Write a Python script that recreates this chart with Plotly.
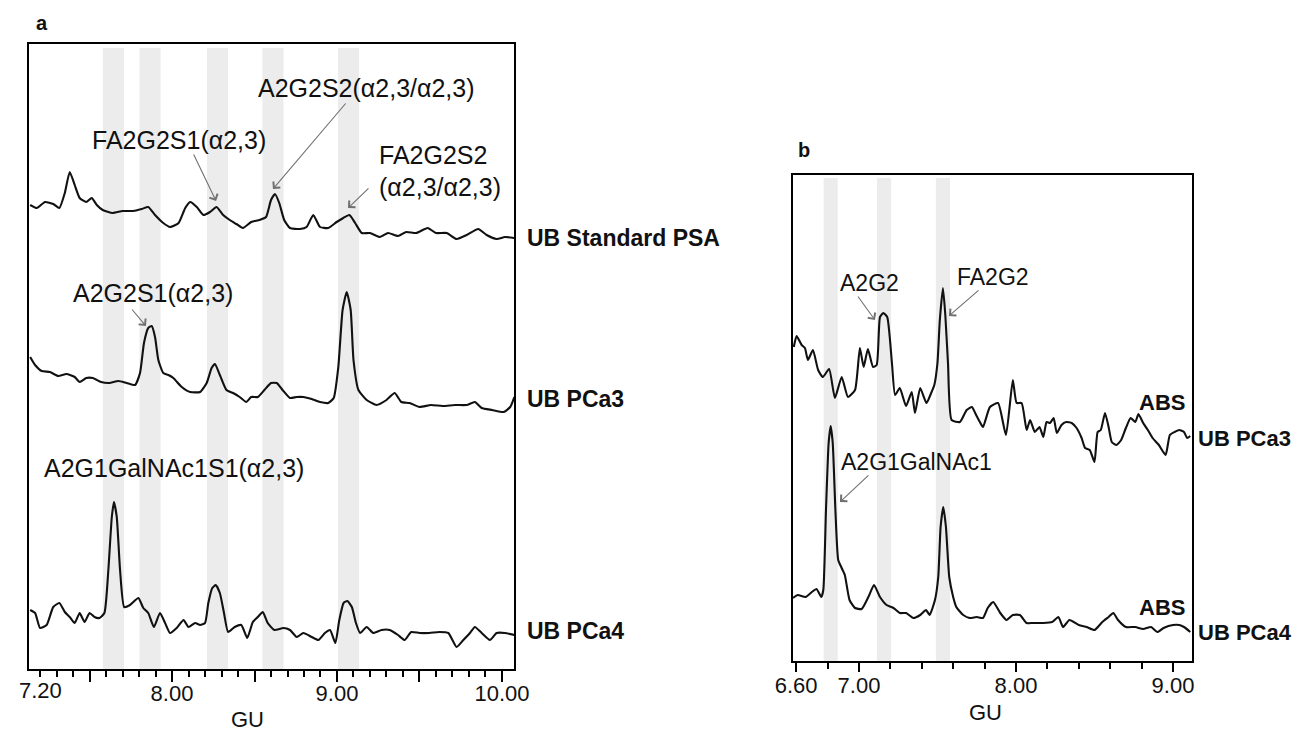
import plotly.graph_objects as go

# ---------------- Panel a data (GU vs relative signal, stacked) ----------------
a_std_gu = [7.14, 7.18, 7.23, 7.28, 7.317, 7.35, 7.38, 7.41, 7.44, 7.48,
            7.513, 7.544, 7.58, 7.64, 7.70, 7.765, 7.816, 7.856, 7.897, 7.947,
            7.988, 8.04, 8.08, 8.11, 8.15, 8.19, 8.23, 8.27, 8.31, 8.35,
            8.39, 8.43, 8.48, 8.53, 8.57, 8.60, 8.624, 8.65, 8.68, 8.715,
            8.776, 8.816, 8.856, 8.897, 8.947, 8.998, 9.038, 9.075, 9.11, 9.15,
            9.20, 9.26, 9.31, 9.37, 9.42, 9.48, 9.55, 9.60, 9.665, 9.725,
            9.786, 9.856, 9.907, 9.968, 10.018, 10.075]
a_std_sig = [464, 461, 467, 465, 461, 476, 497, 484, 471, 467,
             471, 464, 459, 456, 458, 458, 460, 462, 454, 446,
             442, 446, 461, 467, 462, 454, 457, 462, 454, 449,
             445, 441, 447, 449, 452, 469, 475, 466, 449, 441,
             440, 442, 454, 442, 441, 447, 451, 454, 446, 436,
             436, 432, 436, 433, 437, 436, 441, 436, 436, 430,
             434, 440, 434, 430, 432, 431]

a_pca3_gu = [7.14, 7.17, 7.21, 7.26, 7.31, 7.36, 7.41, 7.44, 7.48, 7.52,
             7.57, 7.62, 7.675, 7.725, 7.776, 7.806, 7.83, 7.856, 7.877, 7.897,
             7.917, 7.947, 7.978, 8.008, 8.059, 8.11, 8.17, 8.21, 8.24, 8.26,
             8.29, 8.33, 8.37, 8.41, 8.45, 8.48, 8.52, 8.56, 8.60, 8.635,
             8.67, 8.715, 8.756, 8.796, 8.847, 8.897, 8.947, 8.98, 9.008, 9.034,
             9.059, 9.083, 9.10, 9.13, 9.18, 9.24, 9.30, 9.35, 9.39, 9.44,
             9.50, 9.57, 9.64, 9.715, 9.786, 9.836, 9.877, 9.94, 10.01, 10.05,
             10.075]
a_pca3_sig = [312, 304, 298, 297, 293, 295, 292, 287, 291, 291,
              287, 286, 288, 286, 284, 296, 326, 341, 343, 332,
              309, 296, 294, 291, 282, 277, 277, 286, 301, 305,
              294, 279, 276, 272, 267, 272, 272, 279, 286, 286,
              279, 271, 272, 272, 270, 267, 266, 271, 302, 359,
              377, 359, 309, 279, 269, 264, 269, 276, 267, 266,
              262, 264, 263, 264, 264, 267, 261, 259, 257, 262,
              272]

a_pca4_gu = [7.14, 7.17, 7.20, 7.24, 7.28, 7.317, 7.35, 7.38, 7.41, 7.44,
             7.47, 7.50, 7.53, 7.56, 7.59, 7.614, 7.635, 7.648, 7.665, 7.685,
             7.71, 7.745, 7.796, 7.826, 7.856, 7.89, 7.927, 7.958, 7.988, 8.028,
             8.07, 8.10, 8.14, 8.17, 8.20, 8.22, 8.244, 8.265, 8.29, 8.315,
             8.34, 8.38, 8.42, 8.456, 8.49, 8.52, 8.55, 8.58, 8.62, 8.675,
             8.715, 8.756, 8.796, 8.847, 8.887, 8.927, 8.958, 8.99, 9.014, 9.04,
             9.063, 9.09, 9.115, 9.14, 9.18, 9.22, 9.27, 9.32, 9.37, 9.41,
             9.45, 9.50, 9.56, 9.62, 9.675, 9.725, 9.766, 9.806, 9.836, 9.877,
             9.927, 9.968, 10.018, 10.075]
a_pca4_sig = [59, 56, 41, 44, 62, 66, 57, 52, 46, 56,
              47, 56, 52, 51, 56, 99, 152, 167, 152, 99,
              62, 64, 71, 61, 56, 42, 56, 46, 36, 41,
              49, 42, 46, 44, 46, 66, 81, 84, 76, 56,
              37, 42, 44, 31, 47, 52, 57, 46, 39, 41,
              39, 32, 36, 32, 29, 36, 39, 26, 49, 66,
              68, 62, 46, 36, 42, 36, 39, 39, 34, 29,
              37, 36, 36, 37, 36, 22, 29, 36, 42, 36,
              29, 36, 36, 34]

a_bands = [7.645, 7.867, 8.276, 8.612, 9.07]

# ---------------- Panel b data ----------------
b_pca3_gu = [6.585, 6.603, 6.635, 6.656, 6.675, 6.707, 6.74, 6.77, 6.81, 6.847,
             6.89, 6.93, 6.975, 7.006, 7.03, 7.057, 7.09, 7.113, 7.134, 7.155,
             7.18, 7.21, 7.23, 7.26, 7.30, 7.336, 7.357, 7.39, 7.43, 7.46,
             7.48, 7.50, 7.515, 7.535, 7.55, 7.567, 7.59, 7.643, 7.686, 7.72,
             7.74, 7.77, 7.79, 7.834, 7.886, 7.936, 7.98, 8.004, 8.036, 8.068,
             8.09, 8.12, 8.15, 8.174, 8.195, 8.217, 8.24, 8.26, 8.29, 8.32,
             8.355, 8.386, 8.418, 8.44, 8.47, 8.50, 8.52, 8.54, 8.567, 8.59,
             8.61, 8.64, 8.67, 8.70, 8.73, 8.76, 8.78, 8.81, 8.84, 8.87,
             8.91, 8.953, 8.98, 9.01, 9.04, 9.07, 9.09, 9.11]
b_pca3_sig = [314, 325, 316, 313, 301, 311, 291, 284, 292, 263,
              284, 264, 271, 313, 294, 312, 294, 296, 344, 348,
              344, 298, 266, 273, 255, 269, 248, 273, 258, 268,
              276, 298, 341, 373, 346, 298, 241, 239, 251, 254,
              248, 239, 234, 254, 258, 226, 281, 258, 258, 231,
              241, 229, 234, 224, 239, 238, 243, 228, 236, 239,
              238, 233, 223, 213, 211, 199, 229, 231, 248, 234,
              219, 216, 221, 233, 243, 239, 247, 238, 231, 223,
              216, 206, 226, 229, 231, 229, 223, 225]

b_pca4_gu = [6.58, 6.61, 6.66, 6.70, 6.73, 6.76, 6.773, 6.79, 6.807, 6.82,
             6.833, 6.85, 6.868, 6.89, 6.91, 6.94, 6.975, 7.017, 7.06, 7.096,
             7.134, 7.176, 7.22, 7.26, 7.30, 7.346, 7.39, 7.427, 7.45, 7.484,
             7.505, 7.52, 7.537, 7.554, 7.575, 7.60, 7.62, 7.664, 7.707, 7.75,
             7.79, 7.82, 7.855, 7.90, 7.94, 7.98, 8.025, 8.068, 8.11, 8.174,
             8.23, 8.27, 8.30, 8.34, 8.40, 8.45, 8.50, 8.55, 8.59, 8.62,
             8.65, 8.70, 8.76, 8.81, 8.86, 8.90, 8.94, 9.00, 9.04, 9.07,
             9.11]
b_pca4_sig = [63, 66, 64, 69, 72, 64, 71, 151, 218, 235,
              218, 151, 101, 93, 86, 61, 53, 52, 64, 76,
              64, 56, 53, 48, 48, 43, 46, 51, 46, 61,
              84, 134, 154, 134, 84, 64, 54, 46, 43, 44,
              43, 53, 59, 48, 41, 46, 46, 38, 38, 38,
              39, 44, 34, 41, 36, 34, 31, 39, 44, 48,
              41, 34, 34, 32, 34, 29, 33, 36, 36, 34,
              29]

b_bands = [6.82, 7.16, 7.535]

a_tickvals = [7.5, 8.0, 8.5, 9.0, 9.5, 10.0]
a_ticktext = ["", "8.00", "", "9.00", "", "10.00"]
b_tickvals = [6.6, 7.0, 8.0, 9.0]
b_ticktext = ["6.60", "7.00", "8.00", "9.00"]

# ---------------- Figure ----------------
W, H = 1298, 731
FONT = "Liberation Sans, Arial, Helvetica, sans-serif"
INK = "#111111"

def px(x):
    return x / W

def py(y):
    return 1 - y / H

fig = go.Figure()
line_style = dict(color="#111111", width=2.1, shape="spline", smoothing=0.5)
for gx, sy in [(a_std_gu, a_std_sig), (a_pca3_gu, a_pca3_sig), (a_pca4_gu, a_pca4_sig)]:
    fig.add_trace(go.Scatter(x=gx, y=sy, mode="lines", line=line_style,
                             xaxis="x", yaxis="y", showlegend=False, hoverinfo="skip"))
for gx, sy in [(b_pca3_gu, b_pca3_sig), (b_pca4_gu, b_pca4_sig)]:
    fig.add_trace(go.Scatter(x=gx, y=sy, mode="lines", line=line_style,
                             xaxis="x2", yaxis="y2", showlegend=False, hoverinfo="skip"))

shapes = []
for c in a_bands:
    shapes.append(dict(type="rect", xref="x", yref="y", x0=c - 0.064, x1=c + 0.064,
                       y0=0, y1=621, fillcolor="#ececec", line_width=0, layer="below"))
for c in b_bands:
    shapes.append(dict(type="rect", xref="x2", yref="y2", x0=c - 0.045, x1=c + 0.045,
                       y0=0, y1=483, fillcolor="#ececec", line_width=0, layer="below"))

ann = []
def text(x, y, s, xref="x", yref="y", size=25, bold=False, xanchor="center"):
    ann.append(dict(x=x, y=y, xref=xref, yref=yref, text=("<b>%s</b>" % s) if bold else s,
                    showarrow=False, xanchor=xanchor, yanchor="middle",
                    font=dict(family=FONT, size=size, color=INK)))

def arrow(x, y, ax, ay, xref="x", yref="y"):
    ann.append(dict(x=x, y=y, ax=ax, ay=ay, xref=xref, yref=yref, axref=xref, ayref=yref,
                    text="", showarrow=True, arrowhead=4, arrowsize=1.6, arrowwidth=1.1,
                    arrowcolor="#707070", standoff=0))

# panel a labels
text(7.50, 529, "FA2G2S1(α2,3)", xanchor="left")
arrow(8.267, 468, 8.127, 516)
text(8.51, 581, "A2G2S2(α2,3/α2,3)", xanchor="left")
arrow(8.612, 480, 9.06, 567)
text(9.242, 514, "FA2G2S2", xanchor="left")
text(9.242, 482, "(α2,3/α2,3)", xanchor="left")
arrow(9.067, 461, 9.20, 482)
text(7.388, 376, "A2G2S1(α2,3)", xanchor="left")
arrow(7.842, 343, 7.75, 361)
text(7.212, 201, "A2G1GalNAc1S1(α2,3)", xanchor="left")

# panel b labels
text(7.07, 378, "A2G2", xref="x2", yref="y2", size=23)
arrow(7.102, 341, 6.987, 366, xref="x2", yref="y2")
text(7.853, 384, "FA2G2", xref="x2", yref="y2", size=23)
arrow(7.573, 345, 7.771, 372, xref="x2", yref="y2")
text(7.369, 199, "A2G1GalNAc1", xref="x2", yref="y2", size=23)
arrow(6.879, 159, 7.07, 187, xref="x2", yref="y2")
text(8.93, 259, "ABS", xref="x2", yref="y2", size=22, bold=True)
text(8.93, 54, "ABS", xref="x2", yref="y2", size=22, bold=True)

# sample names (outside the plot boxes)
text(px(525), py(238), "UB Standard PSA", xref="paper", yref="paper", size=23, bold=True, xanchor="left")
text(px(525), py(399), "UB PCa3", xref="paper", yref="paper", size=23, bold=True, xanchor="left")
text(px(525), py(631), "UB PCa4", xref="paper", yref="paper", size=23, bold=True, xanchor="left")
text(px(1196), py(438), "UB PCa3", xref="paper", yref="paper", size=22, bold=True, xanchor="left")
text(px(1196), py(632), "UB PCa4", xref="paper", yref="paper", size=22, bold=True, xanchor="left")

# panel letters, extra tick label, axis titles
text(px(34), py(23), "a", xref="paper", yref="paper", size=20, bold=True, xanchor="left")
text(px(796), py(150), "b", xref="paper", yref="paper", size=20, bold=True, xanchor="left")
text(7.2, py(690), "7.20", xref="x", yref="paper", size=22)
text(px(247), py(719), "GU", xref="paper", yref="paper", size=22)
text(px(985), py(712), "GU", xref="paper", yref="paper", size=22)

axis_common = dict(showline=True, mirror=True, linecolor="black", linewidth=2,
                   showgrid=False, zeroline=False, automargin=False)

fig.update_layout(
    template="none",
    width=W, height=H,
    margin=dict(l=0, r=0, t=0, b=0, pad=0),
    paper_bgcolor="white", plot_bgcolor="white",
    font=dict(family=FONT, size=22, color=INK),
    shapes=shapes, annotations=ann,
    xaxis=dict(domain=[px(29), px(514)], range=[7.133, 10.073], anchor="y",
               tickmode="array", tickvals=a_tickvals, ticktext=a_ticktext,
               ticks="outside", ticklen=11, tickwidth=2, tickcolor="black",
               ticklabelstandoff=-7,
               tickfont=dict(family=FONT, size=22, color=INK),
               minor=dict(tickmode="linear", tick0=7.2, dtick=0.1, ticks="outside",
                          ticklen=6, tickwidth=1.5, tickcolor="black"),
               **axis_common),
    yaxis=dict(domain=[py(669), py(44)], range=[0, 625], anchor="x",
               showticklabels=False, ticks="", **axis_common),
    xaxis2=dict(domain=[px(793), px(1192)], range=[6.58, 9.121], anchor="y2",
                tickmode="array", tickvals=b_tickvals, ticktext=b_ticktext,
                ticks="outside", ticklen=9, tickwidth=2, tickcolor="black",
                ticklabelstandoff=-5,
                tickfont=dict(family=FONT, size=22, color=INK),
                minor=dict(tickmode="linear", tick0=6.6, dtick=0.2, ticks="outside",
                           ticklen=6, tickwidth=1.5, tickcolor="black"),
                **axis_common),
    yaxis2=dict(domain=[py(661), py(175)], range=[0, 486], anchor="x2",
                showticklabels=False, ticks="", **axis_common),
)

fig.write_html("out.html", config={"displayModeBar": False},
               post_script="document.body.style.margin='0';document.body.style.overflow='hidden';")
